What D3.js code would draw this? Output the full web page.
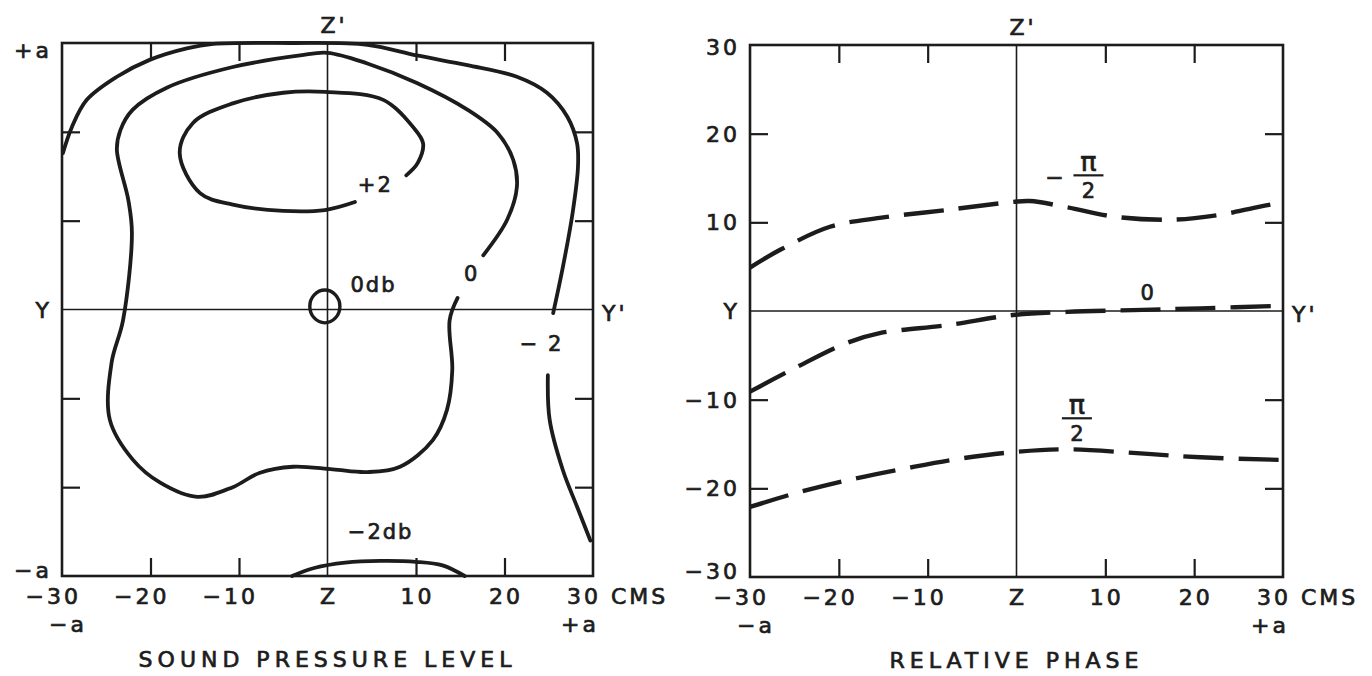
<!DOCTYPE html>
<html>
<head>
<meta charset="utf-8">
<script src="https://cdn.jsdelivr.net/npm/d3@7"></script>
<style>
  body { margin: 0; background: #ffffff; }
  svg text { font-family: "DejaVu Sans", sans-serif; fill: #1c1c1c; stroke: #1c1c1c; stroke-width: 0.7px; }
</style>
</head>
<body>
<svg id="chart" width="1372" height="676"></svg>
<script>
// ---------- data (positions in cms across the duct section) ----------
const innerTicks = [-20, -10, 10, 20];

// horizontal axis labels
const xLabelValues = [-30, -20, -10, 0, 10, 20];
const xLabelTexts  = ["−30", "−20", "−10", "Z", "10", "20"];
const xEndLabel    = "30 CMS";

// vertical axis labels, sound pressure panel
const splYValues = [30, 0, -30];
const splYTexts  = ["+a", "Y", "−a"];

// vertical axis labels, phase panel
const phaseYValues = [30, 20, 10, 0, -10, -20, -30];
const phaseYTexts  = ["30", "20", "10", "Y", "−10", "−20", "−30"];

// Sound pressure level contours [y, z]
const splPlus2 = [
  [3.1, 12.1], [-0.3, 11.2], [-5.0, 11.1], [-10.7, 11.8], [-14.4, 13.1],
  [-16.7, 17.6], [-15.2, 21.0], [-10.7, 23.2], [-5.0, 24.4], [-0.3, 24.5],
  [6.3, 23.6], [9.7, 20.5], [10.8, 18.7], [10.2, 16.5], [8.9, 15.1]
];
const splZero = [
  [14.7, 1.3], [13.8, -1.2], [14.1, -6.8], [13.5, -11.3], [11.9, -14.7],
  [8.2, -17.7], [4.5, -18.3], [0.6, -18.0], [-3.9, -17.7], [-7.7, -18.4],
  [-10.7, -20.0], [-14.7, -21.1], [-18.9, -19.5], [-22.0, -16.9], [-24.6, -12.4],
  [-24.4, -6.0], [-23.1, -1.2], [-22.1, 8.6], [-22.5, 12.3], [-23.8, 18.0],
  [-23.4, 20.2], [-22.0, 22.5], [-18.1, 25.0], [-10.7, 27.3], [-3.1, 28.6],
  [0.0, 28.9], [4.5, 27.7], [10.1, 25.5], [15.8, 22.5], [19.2, 19.9],
  [21.0, 16.8], [21.4, 13.8], [20.3, 10.1], [17.6, 6.1]
];
const splMinus2Upper = [
  [-29.9, 17.6], [-28.9, 20.5], [-27.2, 23.6], [-23.8, 26.2], [-20.1, 28.1],
  [-15.9, 29.4], [-12.9, 29.9], [-4.2, 30.0], [4.5, 29.8], [10.1, 28.6],
  [15.8, 27.5], [21.4, 26.2], [24.8, 24.4], [27.1, 21.7], [28.2, 18.7],
  [28.3, 16.0], [27.7, 10.9], [26.6, 4.8], [25.5, -0.4]
];
const splMinus2Lower = [
  [24.9, -7.4], [25.1, -12.4], [26.6, -18.1], [28.2, -22.2], [29.7, -26.0]
];
const splMinus2Bottom = [
  [-4.0, -30.0], [-1.5, -29.1], [2.0, -28.5], [6.0, -28.3], [10.0, -28.4],
  [13.0, -28.8], [15.5, -30.0]
];
const splZeroRing = [
  [-0.3, 2.2], [0.9, 1.65], [1.4, 0.35], [0.9, -0.95],
  [-0.3, -1.5], [-1.5, -0.95], [-2.0, 0.35], [-1.5, 1.65]
];

// Relative phase contours [y, z]
const phaseMinusHalfPi = [
  [-30.0, 4.9], [-26.6, 6.9], [-21.0, 9.5], [-15.4, 10.5], [-7.8, 11.4],
  [-0.4, 12.3], [1.5, 12.4], [5.7, 11.7], [11.3, 10.6], [17.6, 10.3],
  [22.6, 10.8], [26.6, 11.6], [30.0, 12.3]
];
const phaseZero = [
  [-30.0, -9.1], [-24.7, -6.3], [-19.1, -3.6], [-15.4, -2.5], [-7.8, -1.6],
  [-0.4, -0.45], [5.7, -0.1], [13.1, 0.1], [20.7, 0.3], [30.0, 0.6]
];
const phaseHalfPi = [
  [-30.0, -22.1], [-24.7, -20.5], [-19.1, -19.1], [-11.7, -17.6], [-6.0, -16.6],
  [-0.2, -15.9], [5.7, -15.6], [13.1, -16.0], [20.7, -16.5], [30.0, -16.8]
];

// ---------- drawing ----------
const ink = "#1c1c1c";
const svg = d3.select("#chart");
svg.append("rect").attr("width", 1372).attr("height", 676).attr("fill", "#ffffff");

function drawFrame(x, y, cfg) {
  const g = svg.append("g");
  const [x0, x1] = x.range();
  const [y0, y1] = y.range(); // y0 bottom, y1 top

  // centre cross lines (Y-Y' and Z-Z')
  g.append("line").attr("x1", x0).attr("x2", x1).attr("y1", y(0)).attr("y2", y(0))
    .attr("stroke", ink).attr("stroke-width", 1.6);
  g.append("line").attr("x1", x(0)).attr("x2", x(0)).attr("y1", y1).attr("y2", y0)
    .attr("stroke", ink).attr("stroke-width", 1.6);

  // inward ticks on all four sides
  const tickLen = -18;
  const axes = [
    [d3.axisBottom(x), `translate(0,${y0})`],
    [d3.axisTop(x), `translate(0,${y1})`],
    [d3.axisLeft(y), `translate(${x0},0)`],
    [d3.axisRight(y), `translate(${x1},0)`]
  ];
  axes.forEach(([ax, tr]) => {
    const a = g.append("g").attr("transform", tr)
      .call(ax.tickValues(innerTicks).tickSizeInner(tickLen).tickSizeOuter(0).tickFormat(""));
    a.select(".domain").remove();
    a.selectAll(".tick line").attr("stroke", ink).attr("stroke-width", 2.2);
  });

  // frame
  g.append("rect").attr("x", x0).attr("y", y1).attr("width", x1 - x0).attr("height", y0 - y1)
    .attr("fill", "none").attr("stroke", ink).attr("stroke-width", 2.6);

  // horizontal axis labels
  const lab = g.append("g").attr("font-size", 22).attr("letter-spacing", 3);
  xLabelValues.forEach((v, i) => {
    const neg = v < 0;
    lab.append("text")
      .attr("x", neg ? x(v) + 19 : x(v) + 1.5)
      .attr("y", y0 + 28)
      .attr("text-anchor", neg ? "end" : "middle")
      .text(xLabelTexts[i]);
  });
  lab.append("text").attr("x", x(30) - 26).attr("y", y0 + 28).text(xEndLabel);
  lab.append("text").attr("x", x(-30) - 13).attr("y", y0 + 56).text("−a");
  lab.append("text").attr("x", x(30) - 32).attr("y", y0 + 56).text("+a");

  // vertical axis labels
  cfg.yValues.forEach((v, i) => {
    const yy = Math.max(Math.min(y(v), y0 - 6), y1 + cfg.topNudge);
    lab.append("text").attr("x", x0 - 10).attr("y", yy + 8)
      .attr("text-anchor", "end").text(cfg.yTexts[i]);
  });

  // end labels of the cross lines
  lab.append("text").attr("x", x(0) - 7).attr("y", y1 - 10).text("Z'");
  lab.append("text").attr("x", x1 + 9).attr("y", y(0) + 11).text("Y'");

  // panel title
  svg.append("text").attr("x", x(0)).attr("y", y0 + 91)
    .attr("text-anchor", "middle").attr("font-size", 22).attr("letter-spacing", 5)
    .text(cfg.title);
  return g;
}

// ----- left panel: sound pressure level -----
const xL = d3.scaleLinear().domain([-30, 30]).range([62, 593]);
const yL = d3.scaleLinear().domain([-30, 30]).range([576, 43]);
drawFrame(xL, yL, {
  yValues: splYValues, yTexts: splYTexts, topNudge: 7,
  title: "SOUND PRESSURE LEVEL"
});

const lineL = d3.line().x(d => xL(d[0])).y(d => yL(d[1])).curve(d3.curveCatmullRom.alpha(0.5));
const ringL = d3.line().x(d => xL(d[0])).y(d => yL(d[1])).curve(d3.curveCatmullRomClosed.alpha(0.5));
const contours = svg.append("g").attr("fill", "none").attr("stroke", ink)
  .attr("stroke-width", 3.8).attr("stroke-linecap", "round").attr("stroke-linejoin", "round");
[splPlus2, splZero, splMinus2Upper, splMinus2Lower, splMinus2Bottom].forEach(c =>
  contours.append("path").attr("d", lineL(c)));
contours.append("path").attr("d", ringL(splZeroRing)).attr("stroke-width", 3.4);

const splLabels = svg.append("g").attr("font-size", 21).attr("letter-spacing", 2).attr("text-anchor", "middle");
splLabels.append("text").attr("x", xL(5.4)).attr("y", yL(13.2)).text("+2");
splLabels.append("text").attr("x", xL(5.2)).attr("y", yL(2.0)).text("0db");
splLabels.append("text").attr("x", xL(16.3)).attr("y", yL(3.2)).text("0");
splLabels.append("text").attr("x", xL(24.2)).attr("y", yL(-4.7)).text("− 2");
splLabels.append("text").attr("x", xL(6.0)).attr("y", yL(-25.8)).text("−2db");

// ----- right panel: relative phase -----
const xR = d3.scaleLinear().domain([-30, 30]).range([750, 1283]);
const yR = d3.scaleLinear().domain([-30, 30]).range([577, 45]);
drawFrame(xR, yR, {
  yValues: phaseYValues, yTexts: phaseYTexts, topNudge: 2,
  title: "RELATIVE PHASE"
});

const lineR = d3.line().x(d => xR(d[0])).y(d => yR(d[1])).curve(d3.curveCatmullRom.alpha(0.5));
const phase = svg.append("g").attr("fill", "none").attr("stroke", ink)
  .attr("stroke-width", 4.4).attr("stroke-dasharray", "40,15");
[phaseMinusHalfPi, phaseZero, phaseHalfPi].forEach(c =>
  phase.append("path").attr("d", lineR(c)));

// phase contour labels
const pl = svg.append("g").attr("font-size", 21).attr("text-anchor", "middle");
function fracPi(cx, cy, sign) {
  if (sign) pl.append("text").attr("x", cx - 34).attr("y", cy + 10).attr("font-size", 22).text("−");
  pl.append("text").attr("x", cx).attr("y", cy - 4).attr("font-size", 27).text("π");
  pl.append("line").attr("x1", cx - 15).attr("x2", cx + 15).attr("y1", cy).attr("y2", cy)
    .attr("stroke", ink).attr("stroke-width", 2.2);
  pl.append("text").attr("x", cx).attr("y", cy + 23).text("2");
}
fracPi(xR(8.1), yR(15.3), true);
fracPi(xR(6.8), yR(-12.1), false);
pl.append("text").attr("x", xR(14.7)).attr("y", yR(1.2)).text("0");
</script>
</body>
</html>
